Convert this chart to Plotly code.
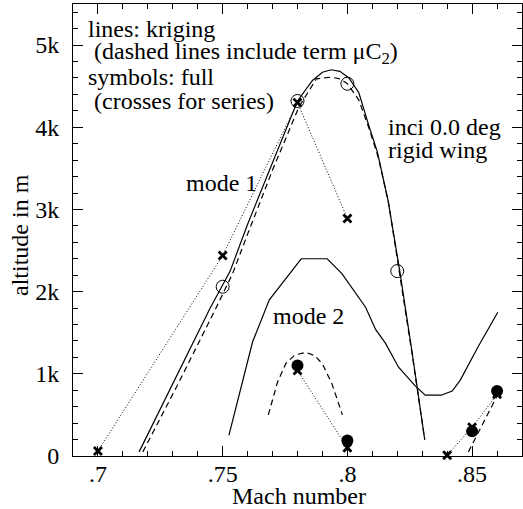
import plotly.graph_objects as go

# ---- data ----
mode1_krig_mach = [0.7165, 0.7300, 0.7450, 0.7500, 0.7530, 0.7600, 0.7700, 0.7800, 0.7860, 0.7900,
                   0.7935, 0.7970, 0.8006, 0.8046, 0.8086, 0.8120, 0.8163, 0.8210, 0.8260, 0.8310]
mode1_krig_alt = [50, 870, 1800, 2080, 2250, 2820, 3580, 4320, 4570, 4670,
                  4700, 4680, 4600, 4420, 4020, 3700, 3110, 2250, 1250, 200]

mode1_krigmu_mach = [0.7180, 0.7320, 0.7470, 0.7500, 0.7540, 0.7600, 0.7700, 0.7806, 0.7876, 0.7934,
                     0.7970, 0.8000, 0.8046, 0.8090, 0.8125, 0.8165, 0.8210, 0.8260, 0.8310]
mode1_krigmu_alt = [50, 870, 1780, 1960, 2220, 2700, 3480, 4250, 4590, 4610,
                    4590, 4530, 4330, 3960, 3620, 3080, 2230, 1230, 200]

mode1_full_mach = [0.75, 0.78, 0.80, 0.82]
mode1_full_alt = [2060, 4320, 4530, 2250]

mode1_series_mach = [0.70, 0.75, 0.78, 0.80]
mode1_series_alt = [60, 2440, 4300, 2890]

mode2_krig_mach = [0.7525, 0.7568, 0.7620, 0.7687, 0.7750, 0.7815, 0.7919, 0.7978, 0.8073, 0.8113,
                   0.8153, 0.8205, 0.8270, 0.8312, 0.8376, 0.8420, 0.8452, 0.8524, 0.8603]
mode2_krig_alt = [250, 770, 1390, 1900, 2150, 2400, 2400, 2220, 1810, 1540,
                  1370, 1080, 860, 740, 740, 790, 920, 1330, 1750]

mode2_krigmu_mach = [0.7683, 0.7720, 0.7754, 0.7790, 0.7834, 0.7870, 0.7900, 0.7938, 0.7980]
mode2_krigmu_alt = [500, 900, 1130, 1230, 1260, 1220, 1120, 880, 500]

mode3_krigmu_mach = [0.8485, 0.8545, 0.8605]
mode3_krigmu_alt = [50, 400, 760]

mode2_full_mach = [0.78, 0.80, 0.85, 0.86]
mode2_full_alt = [1100, 190, 300, 790]

mode2_series_mach = [0.78, 0.80, None, 0.84, 0.85, 0.86]
mode2_series_alt = [1040, 100, None, 10, 350, 750]

x_tickvals = [0.70, 0.75, 0.80, 0.85]
x_ticktext = [".7", ".75", ".8", ".85"]
y_tickvals = [0, 1000, 2000, 3000, 4000, 5000]
y_ticktext = ["0", "1k", "2k", "3k", "4k", "5k"]

FONT = "Liberation Serif, Times New Roman, Times, serif"
FS = 24
LW = 1.2

fig = go.Figure()

def line(x, y, dash):
    fig.add_trace(go.Scatter(x=x, y=y, mode="lines",
                             line=dict(color="black", width=LW, dash=dash),
                             showlegend=False, hoverinfo="skip"))

# series (dotted) lines with crosses
for xs, ys in [(mode1_series_mach, mode1_series_alt), (mode2_series_mach, mode2_series_alt)]:
    fig.add_trace(go.Scatter(x=xs, y=ys, mode="lines+markers",
                             line=dict(color="black", width=1, dash="1px,2px"),
                             marker=dict(symbol="x-thin", size=8, color="black",
                                         line=dict(color="black", width=2.8)),
                             cliponaxis=False, showlegend=False, hoverinfo="skip"))

line(mode1_krig_mach, mode1_krig_alt, "solid")
line(mode1_krigmu_mach, mode1_krigmu_alt, "6px,4px")
line(mode2_krig_mach, mode2_krig_alt, "solid")
line(mode2_krigmu_mach, mode2_krigmu_alt, "6px,4px")
line(mode3_krigmu_mach, mode3_krigmu_alt, "6px,4px")

fig.add_trace(go.Scatter(x=mode1_full_mach, y=mode1_full_alt, mode="markers",
                         marker=dict(symbol="circle-open", size=13, color="black",
                                     line=dict(color="black", width=1)),
                         cliponaxis=False, showlegend=False, hoverinfo="skip"))
fig.add_trace(go.Scatter(x=mode2_full_mach, y=mode2_full_alt, mode="markers",
                         marker=dict(symbol="circle", size=12, color="black"),
                         cliponaxis=False, showlegend=False, hoverinfo="skip"))

axis_common = dict(showline=True, linecolor="black", linewidth=1, mirror="allticks",
                   ticks="inside", ticklen=10, tickwidth=1, tickcolor="black",
                   showgrid=False, zeroline=False,
                   tickfont=dict(family=FONT, size=FS, color="black"))

fig.update_xaxes(range=[0.69, 0.87], tickmode="array", tickvals=x_tickvals, ticktext=x_ticktext,
                 minor=dict(dtick=0.01, tick0=0.7, ticks="inside", ticklen=5,
                            tickcolor="black", tickwidth=1, showgrid=False),
                 ticklabelstandoff=-4, **axis_common)
fig.update_yaxes(range=[0, 5500], tickmode="array", tickvals=y_tickvals, ticktext=y_ticktext,
                 minor=dict(dtick=200, tick0=0, ticks="inside", ticklen=5,
                            tickcolor="black", tickwidth=1, showgrid=False),
                 ticklabelstandoff=8, **axis_common)

def note(text, x, y, xanchor="left", **kw):
    fig.add_annotation(text=text, x=x, y=y, xref="paper", yref="paper",
                       xanchor=xanchor, yanchor="middle", showarrow=False,
                       font=dict(family=FONT, size=FS, color="black"), **kw)

# plot area: x 73..522 px, y 4..456 px
def px(xp):
    return (xp - 73) / 449.0

def py(yp):
    return (456 - yp) / 452.0

note("lines: kriging", px(86), py(29))
note(" (dashed lines include term μC<sub>2</sub>)", px(86), py(53))
note("symbols: full", px(86), py(77))
note(" (crosses for series)", px(86), py(101))
note("mode 1", px(184), py(183))
note("mode 2", px(271), py(316))
note("inci 0.0 deg", px(386), py(127))
note("rigid wing", px(386), py(150))

note("altitude in m", 0, py(235), xanchor="center", xshift=-53, textangle=-90)
note("Mach number", px(299), 0, xanchor="center", yshift=-40)

fig.update_layout(width=523, height=509, margin=dict(l=73, r=1, t=4, b=53),
                  plot_bgcolor="white", paper_bgcolor="white")

fig.write_html("out.html")
